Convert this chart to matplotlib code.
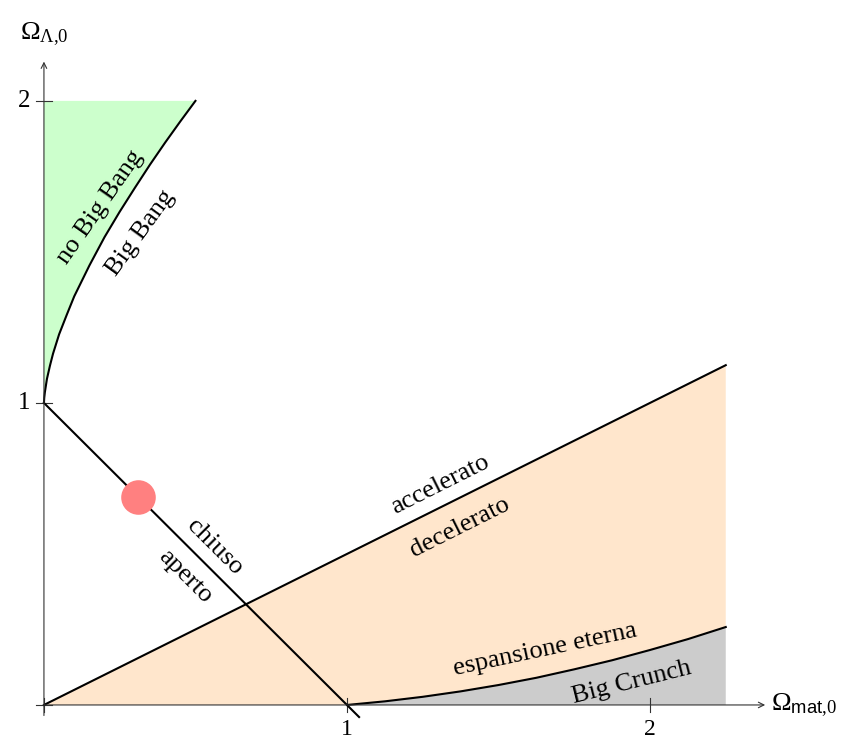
import matplotlib.pyplot as plt

plt.rcParams['font.family'] = ['Liberation Serif', 'DejaVu Serif']
plt.rcParams['mathtext.fontset'] = 'custom'
plt.rcParams['mathtext.rm'] = 'Liberation Serif'
plt.rcParams['mathtext.it'] = 'Liberation Serif:italic'
plt.rcParams['mathtext.sf'] = 'Liberation Sans'

# confine Big Bang / no Big Bang
bb_om = [0.0, 0.001, 0.003, 0.01, 0.02, 0.03, 0.05, 0.075, 0.1, 0.15,
         0.2, 0.25, 0.3, 0.35, 0.4, 0.45, 0.475, 0.5]
bb_ol = [1.0, 1.017, 1.035, 1.08, 1.124, 1.163, 1.227, 1.291, 1.353, 1.455,
         1.549, 1.633, 1.712, 1.789, 1.862, 1.932, 1.966, 2.0]

# confine espansione eterna / Big Crunch
bc_om = [1.0, 1.125, 1.25, 1.375, 1.5, 1.625, 1.75, 1.875, 2.0, 2.125, 2.25]
bc_ol = [0.0, 0.012, 0.027, 0.045, 0.066, 0.090, 0.118, 0.148, 0.182, 0.218, 0.258]

# universo piatto e limite accelerato/decelerato
piatto_om = [0.0, 1.04]
piatto_ol = [1.0, -0.04]
acc_om = [0.0, 2.25]
acc_ol = [0.0, 1.125]

# valori osservati
oss_om, oss_ol = 0.31, 0.69

fig = plt.figure(figsize=(8.5, 7.4), dpi=100)
ax = fig.add_axes([0, 0, 1, 1])
ax.set_xlim(-0.145, 2.660)
ax.set_ylim(-0.116, 2.334)
ax.axis('off')

# regioni colorate
ax.fill(bb_om + [0.0], bb_ol + [2.0], color='#ccffcc', lw=0)
ax.fill(acc_om + bc_om[::-1] + [0.0], acc_ol + bc_ol[::-1] + [0.0], color='#ffe6cc', lw=0)
ax.fill(bc_om + [2.25, 1.0], bc_ol + [0.0, 0.0], color='#cccccc', lw=0)

# assi
ax.annotate('', xy=(2.38, 0), xytext=(0, 0),
            arrowprops=dict(arrowstyle='->', lw=0.8, color='#333333', shrinkA=0, shrinkB=0))
ax.annotate('', xy=(0, 2.13), xytext=(0, -0.035),
            arrowprops=dict(arrowstyle='->', lw=0.8, color='#333333', shrinkA=0, shrinkB=0))
for t in [0, 1, 2]:
    ax.plot([t, t], [-0.022, 0.022], color='#333333', lw=0.8)
    ax.plot([-0.025, 0.025], [t, t], color='#333333', lw=0.8)
for t in [1, 2]:
    ax.text(t, -0.045, str(t), ha='center', va='top', fontsize=17)
    ax.text(-0.046, t, str(t), ha='right', va='center', fontsize=18)
ax.text(2.40, 0, r'$\Omega_{\mathsf{mat}{,}0}$', ha='left', va='center', fontsize=19)
ax.text(0.0, 2.22, r'$\Omega_{\Lambda{,}0}$', ha='center', va='center', fontsize=19)

# curve
ax.plot(bb_om, bb_ol, color='black', lw=1.5)
ax.plot(bc_om, bc_ol, color='black', lw=1.5)
ax.plot(piatto_om, piatto_ol, color='black', lw=1.5)
ax.plot(acc_om, acc_ol, color='black', lw=1.5)

ax.scatter([oss_om], [oss_ol], s=620, color='#ff8080', lw=0, zorder=5)

# etichette
kw = dict(ha='center', va='center', fontsize=19, rotation_mode='anchor')
ax.text(0.185, 1.649, 'no Big Bang', rotation=55, **kw)
ax.text(0.317, 1.563, 'Big Bang', rotation=54, **kw)
ax.text(0.564, 0.523, 'chiuso', rotation=-45, **kw)
ax.text(0.465, 0.424, 'aperto', rotation=-45, **kw)
ax.text(1.307, 0.728, 'accelerato', rotation=26.6, **kw)
ax.text(1.373, 0.589, 'decelerato', rotation=26.6, **kw)
ax.text(1.653, 0.182, 'espansione eterna', rotation=12, **kw)
ax.text(1.94, 0.073, 'Big Crunch', rotation=14, **kw)

fig.savefig('out.png', dpi=100)
